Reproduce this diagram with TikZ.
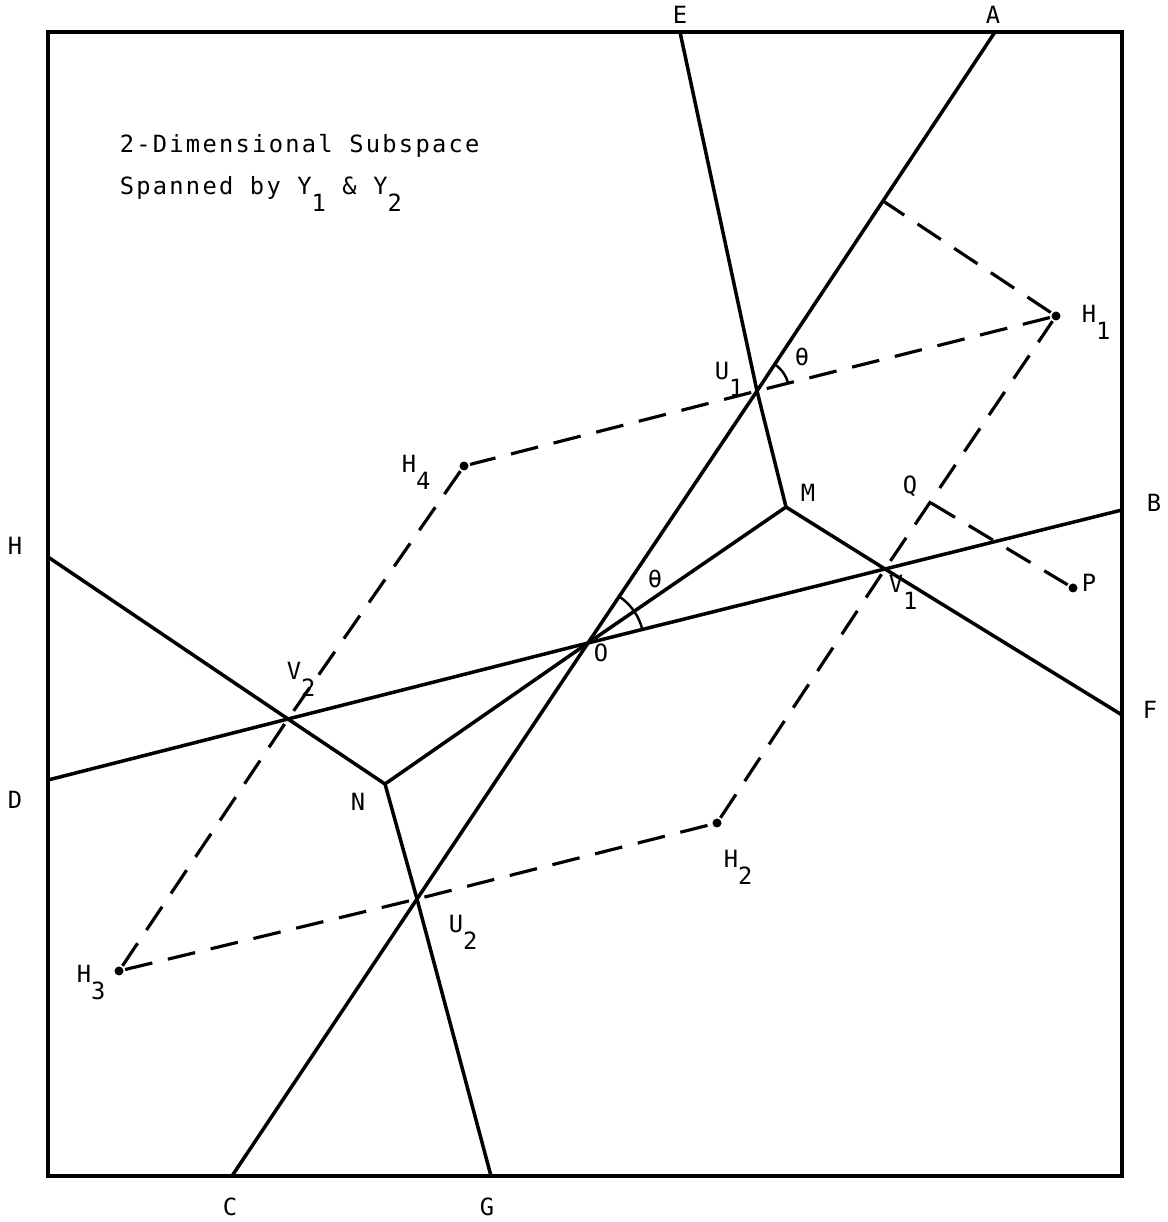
\documentclass[tikz,border=0pt]{standalone}
\usepackage{fontspec}
\newfontfamily\plotfont[LetterSpace=9.6]{DejaVu Sans Mono}
\newcommand{\lo}[1]{\raisebox{-0.7em}{#1}}

\begin{document}
\begin{tikzpicture}[x=0.2mm, y=0.2mm, line width=2pt,
  every node/.style={font=\plotfont\fontsize{13.5}{16}\selectfont, inner sep=0pt},
  guion/.style={line width=1.8pt, dash pattern=on 5.6mm off 3.2mm},
  punto/.style={circle, fill=black, inner sep=0pt, minimum size=1.8mm}]

  \useasboundingbox (0,0) rectangle (1167,1222);

  % Marco
  \draw (48,46) rectangle (1122,1190);

  % Puntos sobre el marco
  \coordinate (E) at (680,1190);
  \coordinate (A) at (995,1190);
  \coordinate (B) at (1122,712);
  \coordinate (F) at (1122,507);
  \coordinate (G) at (491,46);
  \coordinate (C) at (232,46);
  \coordinate (D) at (48,442);
  \coordinate (H) at (48,665);

  % Puntos interiores
  \coordinate (O) at (588,579);
  \coordinate (M) at (786,715);
  \coordinate (N) at (385,438);
  \coordinate (U1) at (757,831);
  \coordinate (U2) at (417,323);
  \coordinate (V1) at (885,653);
  \coordinate (V2) at (288,503);
  \coordinate (K) at (883,1021);
  \coordinate (Q) at (931,719);

  % Puntos H_i y P
  \node[punto] (H1) at (1056,906) {};
  \node[punto] (H2) at (717,399) {};
  \node[punto] (H3) at (119,251) {};
  \node[punto] (H4) at (464,756) {};
  \node[punto] (P) at (1073,634) {};

  % Rectas continuas
  \draw (A) -- (U1) -- (O) -- (U2) -- (C);
  \draw (D) -- (V2) -- (O) -- (V1) -- (B);
  \draw (E) -- (U1) -- (M) -- (V1) -- (F);
  \draw (H) -- (V2) -- (N) -- (U2) -- (G);
  \draw (O) -- (M);
  \draw (O) -- (N);

  % Rectas discontinuas
  \draw[guion] (H1) -- (U1) -- (H4);
  \draw[guion] (H4) -- (V2) -- (H3);
  \draw[guion] (H3) -- (U2) -- (H2);
  \draw[guion] (H2) -- (V1) -- (H1);
  \draw[guion] (H1) -- (K);
  \draw[guion] (Q) -- (P);

  % Angulos theta
  \draw[line width=1.4pt] (U1) ++(14.1:6.4mm) arc[start angle=14.1, end angle=56.3, radius=6.4mm];
  \draw[line width=1.4pt] (O) ++(14:11.2mm) arc[start angle=14, end angle=56.3, radius=11.2mm];

  % Etiquetas
  \node (tit1) [anchor=base west] at (118,1069) {2-Dimensional Subspace};
  \node (tit2) [anchor=base west] at (118,1027) {Spanned by Y\lo{1} \& Y\lo{2}};
  \node (lE) at (680,1207) {E};
  \node (lA) at (993,1207) {A};
  \node (lB) at (1154,719) {B};
  \node (lF) at (1150,512) {F};
  \node (lH) at (15,676) {H};
  \node (lD) at (15,422) {D};
  \node (lC) at (230,15) {C};
  \node (lG) at (487,15) {G};
  \node (lO) at (601,569) {O};
  \node (lM) at (808,729) {M};
  \node (lN) at (358,420) {N};
  \node (lQ) at (910,736) {Q};
  \node (lP) at (1089,639) {P};
  \node (t1) at (802,865) {θ};
  \node (t2) at (655,643) {θ};
  \node (lH1) [anchor=base west] at (1080,899) {H\lo{1}};
  \node (lH2) [anchor=base west] at (722,354) {H\lo{2}};
  \node (lH3) [anchor=base west] at (75,239) {H\lo{3}};
  \node (lH4) [anchor=base west] at (400,749) {H\lo{4}};
  \node (lU1) [anchor=base west] at (713,842) {U\lo{1}};
  \node (lU2) [anchor=base west] at (447,289) {U\lo{2}};
  \node (lV1) [anchor=base west] at (887,629) {V\lo{1}};
  \node (lV2) [anchor=base west] at (285,542) {V\lo{2}};

\end{tikzpicture}
\end{document}
